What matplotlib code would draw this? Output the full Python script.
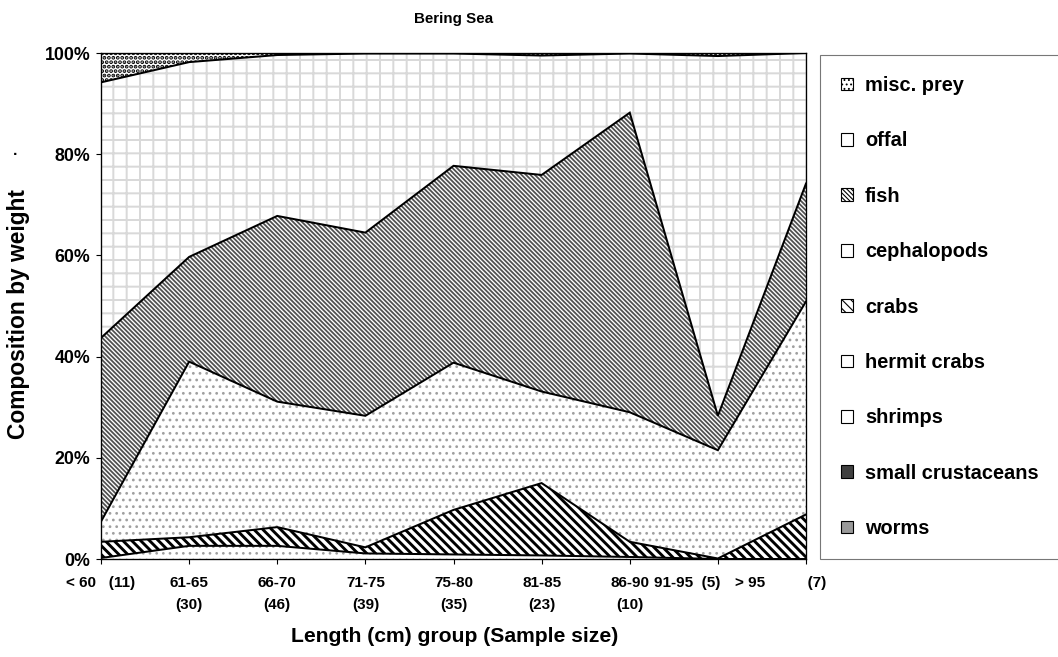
import numpy as np
import matplotlib
matplotlib.use('Agg')
import matplotlib.pyplot as plt
from matplotlib.patches import Patch
from matplotlib.transforms import ScaledTranslation

plt.rcParams['font.family'] = ['Liberation Sans', 'DejaVu Sans']
plt.rcParams['font.weight'] = 'bold'

# length groups (sample size)
groups = ['< 60   (11)', '61-65\n(30)', '66-70\n(46)', '71-75\n(39)', '75-80\n(35)',
          '81-85\n(23)', '86-90\n(10)', '91-95  (5)', '> 95          (7)']

# composition by weight (%), bottom to top of the stack
worms = [0, 0, 0, 0, 0, 0, 0, 0, 0]
small_crustaceans = [0, 0, 0, 0, 0, 0, 0, 0, 0]
shrimps = [0, 0, 0, 0, 0, 0, 0, 0, 0]
hermit_crabs = [0.2, 2.6, 2.6, 1.1, 0.9, 0.7, 0.4, 0.0, 0.0]
crabs = [3.2, 1.7, 3.7, 1.2, 8.8, 14.3, 3.0, 0.1, 8.8]
cephalopods = [4.0, 34.7, 24.8, 26.0, 29.1, 18.1, 25.6, 21.4, 42.1]
fish = [36.3, 20.7, 36.7, 36.2, 38.9, 42.8, 59.2, 6.8, 23.3]
offal = [50.5, 38.5, 31.8, 35.4, 22.2, 23.6, 11.7, 71.1, 25.8]
misc_prey = [5.8, 1.8, 0.4, 0.1, 0.1, 0.5, 0.1, 0.6, 0.0]

# name, values, face, hatch, hatch colour, hatch width
series = [
    ('worms', worms, '#999999', None, '#999999', 1.0),
    ('small crustaceans', small_crustaceans, '#404040', None, '#404040', 1.0),
    ('shrimps', shrimps, 'white', None, 'white', 1.0),
    ('hermit crabs', hermit_crabs, 'white', '..', '#a0a0a0', 1.2),
    ('crabs', crabs, 'white', '\\\\\\', 'black', 2.6),
    ('cephalopods', cephalopods, 'white', '..', '#a0a0a0', 1.3),
    ('fish', fish, 'white', '\\\\\\\\\\\\', '#505050', 1.6),
    ('offal', offal, 'white', '+', '#d9d9d9', 1.8),
    ('misc. prey', misc_prey, 'white', '...', 'black', 2.4),
]

DPI = 80
fig = plt.figure(figsize=(1058 / DPI, 657 / DPI), dpi=DPI)
ax = fig.add_axes([101 / 1058, 98 / 657, 705 / 1058, 506 / 657])

x = np.arange(len(groups))
total = np.sum([np.array(s[1], dtype=float) for s in series], axis=0)

bottom = np.zeros(len(x))
tops = []
for name, vals, fc, hatch, hc, hlw in series:
    top = bottom + np.array(vals, dtype=float) / total * 100
    with plt.rc_context({'hatch.linewidth': hlw}):
        coll = ax.fill_between(x, bottom, top, facecolor=fc, edgecolor=hc,
                               hatch=hatch, linewidth=0)
    if hasattr(coll, 'set_hatch_linewidth'):
        coll.set_hatch_linewidth(hlw)
    tops.append(top)
    bottom = top

# area borders
for top in tops[3:]:
    ax.plot(x, top, color='black', linewidth=1.8, solid_joinstyle='miter')

ax.set_xlim(0, len(groups) - 1)
ax.set_ylim(0, 100)
ax.set_yticks([0, 20, 40, 60, 80, 100])
ax.set_yticklabels(['0%', '20%', '40%', '60%', '80%', '100%'], fontsize=16)
ax.set_xticks(x)
ax.set_xticklabels(groups, fontsize=13.7, linespacing=1.7)
ax.tick_params(axis='x', direction='out', length=4.5, width=1, pad=11)
ax.tick_params(axis='y', direction='out', length=4.5, width=1, pad=5)

# the long single-line labels are pushed left of their tick, as in the original
shifts = {7: -31, 8: -25}
for i, lab in enumerate(ax.get_xticklabels()):
    if i in shifts:
        lab.set_transform(lab.get_transform() +
                          ScaledTranslation(shifts[i] / DPI, 0, fig.dpi_scale_trans))

for sp in ax.spines.values():
    sp.set_color('black')
    sp.set_linewidth(1.2)

ax.set_title('Bering Sea', fontsize=13.6, fontweight='bold', pad=27)
fig.text(455 / 1058, 1 - 637 / 657, 'Length (cm) group (Sample size)',
         fontsize=19, fontweight='bold', ha='center', va='center')
fig.text(19 / 1058, 1 - 314 / 657, 'Composition by weight',
         fontsize=20.5, fontweight='bold', ha='center', va='center', rotation=90)
fig.text(15 / 1058, 1 - 155 / 657, '·', fontsize=14, fontweight='bold',
         ha='center', va='center')

# legend, top entry first
handles = []
for name, vals, fc, hatch, hc, hlw in series[::-1]:
    if name in ('misc. prey', 'fish', 'crabs'):
        h = Patch(facecolor='white', edgecolor='black', hatch=hatch, label=name)
    else:
        h = Patch(facecolor=fc, edgecolor='black', label=name)
    handles.append(h)

leg = fig.legend(handles=handles, loc='upper left',
                 bbox_to_anchor=(820 / 1058, 1 - 55 / 657),
                 frameon=True, fancybox=False, shadow=False,
                 prop={'size': 18, 'weight': 'bold'},
                 borderpad=1.05, labelspacing=1.82,
                 handlelength=0.6, handleheight=0.6, handletextpad=0.6,
                 borderaxespad=0)
leg.get_frame().set_edgecolor('#555555')
leg.get_frame().set_linewidth(1.0)

fig.savefig('out.png', dpi=DPI)
